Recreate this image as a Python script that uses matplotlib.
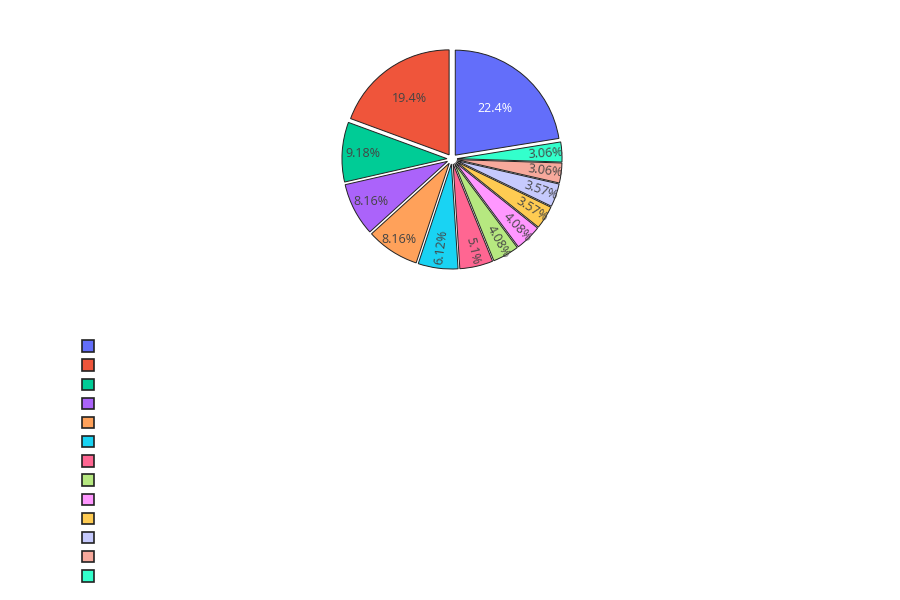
import numpy as np
import matplotlib
matplotlib.use('Agg')
from matplotlib import pyplot as plt

# Slice values (counts), share labels are computed from them.
values = [44, 38, 18, 16, 16, 12, 10, 8, 8, 7, 7, 6, 6]
legend_labels = [''] * len(values)
colors = ['#636efa', '#ef553b', '#00cc96', '#ab63fa', '#ffa15a', '#19d3f3', '#ff6692',
          '#b6e880', '#ff97ff', '#fecb52', '#c6cafd', '#f7a99c', '#33ffcc']


def main():
    plt.rcParams['font.family'] = ['Open Sans', 'DejaVu Sans']
    fig = plt.figure(figsize=(9, 6), dpi=100)

    # Pie axes: centre near (452, 159) px, radius 105 px.
    half = 1.2
    size = 2 * half * 105
    ax = fig.add_axes([(452 - size / 2) / 900, (441 - size / 2) / 600, size / 900, size / 600])

    total = sum(values)
    start = 90 - values[0] / total * 360
    wedges, _, autotexts = ax.pie(
        values, colors=colors, startangle=start, counterclock=True,
        explode=[0.048] * len(values),
        autopct=lambda p: f'{p:.3g}%', pctdistance=0.85,
        wedgeprops=dict(edgecolor='#222222', linewidth=0.7),
        textprops=dict(fontsize=9, color='#444444'))
    ax.set_xlim(-half, half)
    ax.set_ylim(-half, half)
    ax.set_aspect('equal')
    ax.axis('off')

    # Bigger slices keep horizontal text further in, small ones run radially.
    inner = {0: 0.58, 1: 0.66, 2: 0.8, 3: 0.82, 4: 0.87, 5: 0.8}
    for i, (w, t) in enumerate(zip(wedges, autotexts)):
        mid = np.deg2rad((w.theta1 + w.theta2) / 2)
        dist = inner.get(i, 0.85)
        cx, cy = w.center
        t.set_position((cx + dist * np.cos(mid), cy + dist * np.sin(mid)))
        if i >= 5:
            rot = np.rad2deg(mid) % 360
            if rot > 180:
                rot -= 360
            if rot > 90:
                rot -= 180
            elif rot < -90:
                rot += 180
            t.set_rotation(rot)
            t.set_rotation_mode('anchor')
    autotexts[0].set_color('white')

    leg = fig.legend(wedges, legend_labels, loc='upper left',
                     bbox_to_anchor=(72 / 900, 1 - 330 / 600), frameon=False,
                     fontsize=10, handlelength=0.88, handleheight=0.88,
                     labelspacing=0.3, handletextpad=0.4, borderpad=0.2)
    for h in leg.legend_handles:
        h.set_linewidth(1.2)
        h.set_edgecolor('#222222')

    plt.savefig('out.png', dpi=100)
    plt.close()


if __name__ == '__main__':
    main()
